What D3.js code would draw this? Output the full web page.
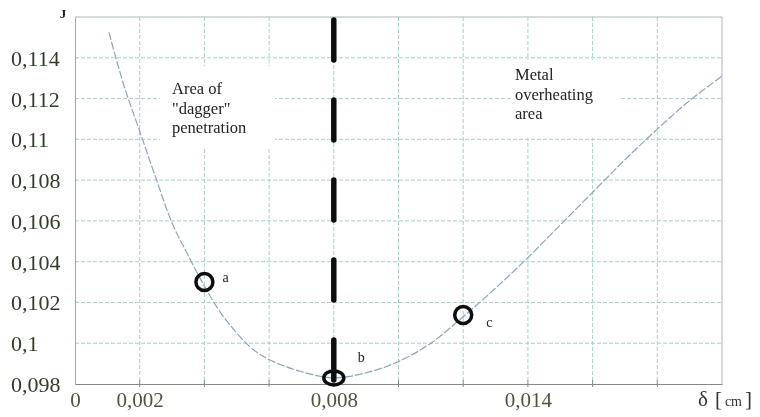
<!DOCTYPE html>
<html>
<head>
<meta charset="utf-8">
<script src="https://cdn.jsdelivr.net/npm/d3@7"></script>
<style>
  html, body { margin: 0; padding: 0; background: #fff; }
  svg { display: block; }
  svg text { font-family: "Liberation Serif", "DejaVu Serif", serif; }
</style>
</head>
<body>
<svg id="chart" width="760" height="417"></svg>
<script>
// Thickness δ (cm) against the quality criterion J
const deltaCm = [0.00105, 0.0015, 0.0020, 0.0025, 0.0030, 0.0035, 0.0040, 0.0045, 0.0050,
                 0.0055, 0.0060, 0.0070, 0.0080, 0.0090, 0.0100, 0.0110, 0.0120, 0.0130,
                 0.0140, 0.0150, 0.0160, 0.0170, 0.0180, 0.0190, 0.0200];
const jValues = [0.11525, 0.1127, 0.1104, 0.1081, 0.1059, 0.1043, 0.1028, 0.1015, 0.1005,
                 0.0997, 0.0992, 0.0986, 0.0983, 0.09855, 0.0991, 0.1000, 0.1013, 0.1027,
                 0.1042, 0.1058, 0.1074, 0.1090, 0.1105, 0.1119, 0.1131];

// Marked states on the curve
const markNames = ["a", "b", "c"];
const markDelta = [0.004, 0.008, 0.012];
const markJ = [0.1030, 0.0983, 0.10138];

// Boundary between the two regimes
const boundaryDelta = 0.008;

// Axes
const xDomain = [0, 0.020];
const yDomain = [0.098, 0.116];
const xGridValues = [0.002, 0.004, 0.006, 0.008, 0.010, 0.012, 0.014, 0.016, 0.018];
const xLabelValues = [0, 0.002, 0.008, 0.014];
const yTickValues = [0.098, 0.100, 0.102, 0.104, 0.106, 0.108, 0.110, 0.112, 0.114];

// Region captions
const leftCaption = ["Area of", "\"dagger\"", "penetration"];
const rightCaption = ["Metal", "overheating", "area"];

const root = d3.select("#chart");
const serif = "Liberation Serif, DejaVu Serif, serif";

// Slight softening of the whole drawing, like a scanned figure
root.append("defs").append("filter").attr("id", "soft")
  .append("feGaussianBlur").attr("stdDeviation", 0.35);
const svg = root.append("g").attr("filter", "url(#soft)");
svg.append("rect").attr("width", 760).attr("height", 417).attr("fill", "#fff");

const x = d3.scaleLinear().domain(xDomain).range([75, 722]);
const y = d3.scaleLinear().domain(yDomain).range([384, 17]);

const locale = d3.formatLocale({decimal: ",", thousands: ".", grouping: [3], currency: ["", ""]});
const fmt = locale.format("~g");

// Grid
const grid = svg.append("g")
  .attr("stroke", "#a6d0cb").attr("stroke-width", 1).attr("stroke-dasharray", "4,2");
grid.selectAll("line.v").data(xGridValues).join("line").attr("class", "v")
  .attr("x1", d => x(d)).attr("x2", d => x(d))
  .attr("y1", y(yDomain[1])).attr("y2", y(yDomain[0]));
grid.selectAll("line.h").data(yTickValues.slice(1)).join("line").attr("class", "h")
  .attr("x1", x(xDomain[0])).attr("x2", x(xDomain[1]))
  .attr("y1", d => y(d)).attr("y2", d => y(d));

// Small ticks on the bottom axis
svg.append("g").attr("stroke", "#888").attr("stroke-width", 1)
  .selectAll("line").data(xGridValues).join("line")
  .attr("x1", d => x(d)).attr("x2", d => x(d))
  .attr("y1", y(yDomain[0]) - 4).attr("y2", y(yDomain[0]) + 3);

// Frame
svg.append("line").attr("x1", x(xDomain[0])).attr("x2", x(xDomain[1]))
  .attr("y1", y(yDomain[1])).attr("y2", y(yDomain[1]))
  .attr("stroke", "#a9b8b6").attr("stroke-width", 1);
svg.append("line").attr("x1", x(xDomain[1])).attr("x2", x(xDomain[1]))
  .attr("y1", y(yDomain[1])).attr("y2", y(yDomain[0]))
  .attr("stroke", "#a9b8b6").attr("stroke-width", 1);

// Caption backgrounds (they hide the grid behind the text)
svg.append("rect").attr("x", 160).attr("y", 66).attr("width", 115).attr("height", 82).attr("fill", "#fff");
svg.append("rect").attr("x", 511).attr("y", 60).attr("width", 110).attr("height", 78).attr("fill", "#fff");

// Left axis
const yAxis = svg.append("g").attr("transform", `translate(${x(xDomain[0])},0)`)
  .call(d3.axisLeft(y).tickValues(yTickValues).tickFormat(fmt).tickSize(0));
yAxis.attr("font-family", null);
yAxis.select(".domain").attr("stroke", "#8fb0ab");
yAxis.selectAll("text").attr("text-anchor", "start").attr("x", -64).attr("dy", "0.34em")
  .style("font-family", serif).attr("font-size", 22).attr("fill", "#2f3d28");

// Bottom axis
const xAxis = svg.append("g").attr("transform", `translate(0,${y(yDomain[0])})`)
  .call(d3.axisBottom(x).tickValues(xLabelValues).tickFormat(fmt).tickSize(0).tickPadding(8));
xAxis.attr("font-family", null);
xAxis.select(".domain").attr("stroke", "#888");
xAxis.selectAll("text").style("font-family", serif).attr("font-size", 21).attr("fill", "#4b5639");

// Axis titles
svg.append("text").attr("x", 63).attr("y", 18).attr("text-anchor", "middle")
  .style("font-family", serif).attr("font-size", 13).attr("font-weight", "bold").attr("fill", "#222")
  .text("J");
const xt = svg.append("text").attr("x", 698).attr("y", 406)
  .style("font-family", serif).attr("fill", "#333");
xt.append("tspan").attr("font-size", 21).text("δ");
xt.append("tspan").attr("font-size", 21).attr("dx", 7).text("[");
xt.append("tspan").attr("font-size", 14).attr("dx", 3).text("cm");
xt.append("tspan").attr("font-size", 21).attr("dx", 3).text("]");

// Curve
const line = d3.line().x(d => x(d)).y((d, i) => y(jValues[i])).curve(d3.curveCatmullRom.alpha(0.5));
svg.append("path").attr("d", line(deltaCm))
  .attr("fill", "none").attr("stroke", "#8aa6b5").attr("stroke-width", 1.2)
  .attr("stroke-dasharray", "8,2");

// Boundary line
svg.append("line")
  .attr("x1", x(boundaryDelta)).attr("x2", x(boundaryDelta))
  .attr("y1", y(yDomain[1]) + 3).attr("y2", y(yDomain[0]))
  .attr("stroke", "#111").attr("stroke-width", 5.5).attr("stroke-linecap", "round")
  .attr("stroke-dasharray", "40,40");

// Marked points
const marks = markNames.map((n, i) => ({n, d: markDelta[i], j: markJ[i]}));
svg.selectAll("ellipse.mark").data(marks).join("ellipse").attr("class", "mark")
  .attr("cx", d => x(d.d)).attr("cy", d => y(d.j))
  .attr("rx", d => d.n === "b" ? 10 : 8.5).attr("ry", d => d.n === "b" ? 7 : 8.5)
  .attr("fill", "none").attr("stroke", "#111").attr("stroke-width", 3.5);
const labelOffset = {a: [18, 0], b: [24, -16], c: [23, 12]};
svg.selectAll("text.mark").data(marks).join("text").attr("class", "mark")
  .attr("x", d => x(d.d) + labelOffset[d.n][0]).attr("y", d => y(d.j) + labelOffset[d.n][1])
  .style("font-family", serif).attr("font-size", 14).attr("fill", "#222")
  .text(d => d.n);

// Captions
function caption(lines, x0, y0) {
  svg.append("text").style("font-family", serif).attr("font-size", 16.5).attr("fill", "#222")
    .selectAll("tspan").data(lines).join("tspan")
    .attr("x", x0).attr("y", (d, i) => y0 + i * 19.5).text(d => d);
}
caption(leftCaption, 172, 94);
caption(rightCaption, 515, 80);
</script>
</body>
</html>
